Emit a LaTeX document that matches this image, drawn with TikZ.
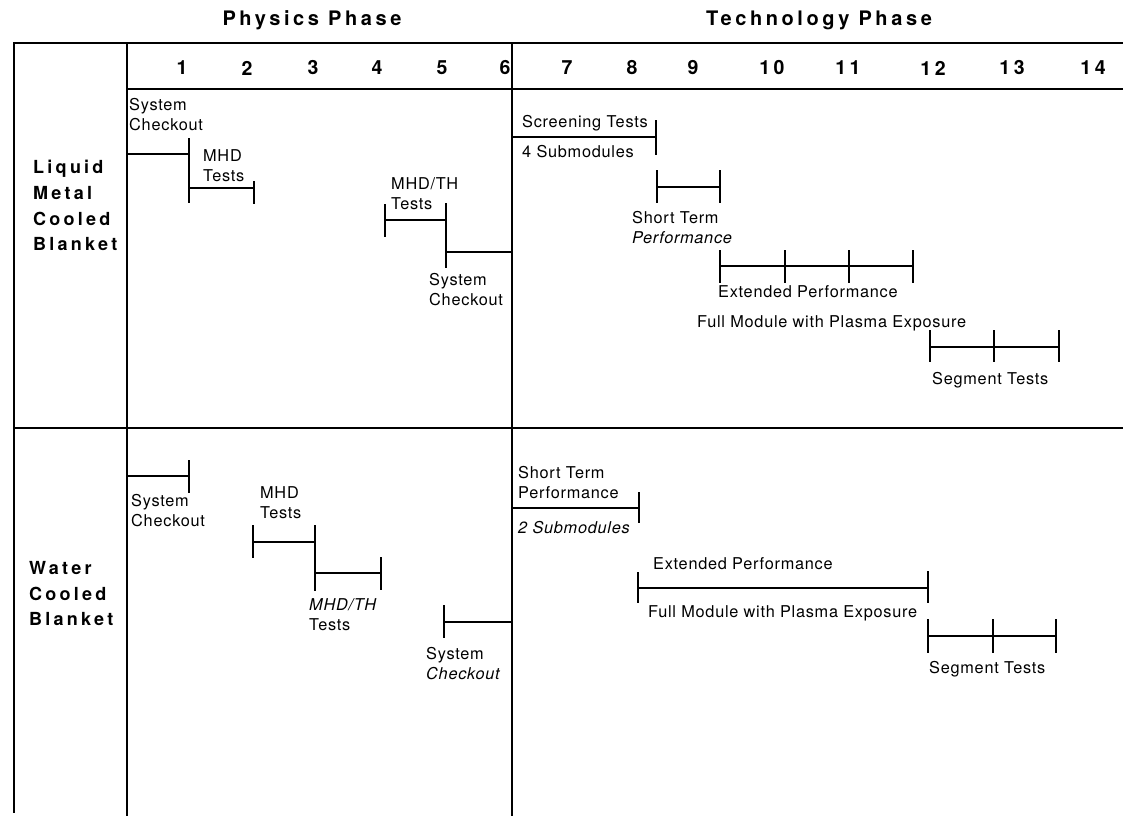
\documentclass[tikz,border=0pt]{standalone}
\usepackage{fontspec}
\setmainfont[LetterSpace=4.5]{TeX Gyre Heros}
\newfontfamily\headfont[LetterSpace=18]{TeX Gyre Heros}

\tikzset{
    frame/.style={line width=2pt},
    bar/.style={line width=1.8pt},
    task/.style={anchor=north west, inner sep=0pt, align=left, font=\fontsize{16.3}{20.5}\selectfont},
    rowname/.style={anchor=north west, inner sep=0pt, align=left, font=\headfont\bfseries\fontsize{18}{25.7}\selectfont},
    phase/.style={inner sep=0pt, font=\headfont\bfseries\fontsize{20}{24}\selectfont},
    year/.style={inner sep=0pt, font=\headfont\bfseries\fontsize{19.5}{22}\selectfont}
}

% vertical tick of a bar: x, top, bottom
\newcommand{\barTick}[3]{\draw[bar] (#1,#2) -- (#1,#3);}

\begin{document}
\begin{tikzpicture}[x=1pt, y=-1pt]

    % Dimensions (pixels of the chart)
    \def\leftX{14}
    \def\labelX{127}
    \def\phaseX{512}
    \def\rightX{1123}
    \def\topY{43}
    \def\headY{89}
    \def\rowY{428}
    \def\bottomY{816}

    \useasboundingbox (0,0) rectangle (1123,816);

    % Phase titles
    \node[phase] (physics) at (312,20) {Physics Phase};
    \node[phase] (technology) at (819,20) {Technology Phase};

    % Table Outline
    \draw[frame] (\rightX,\topY) -- (\leftX,\topY) -- (\leftX,813);
    \draw[frame] (\labelX,\topY) -- (\labelX,\bottomY);
    \draw[frame] (\phaseX,\topY) -- (\phaseX,\bottomY);
    \draw[frame] (\labelX,\headY) -- (\rightX,\headY);
    \draw[frame] (\leftX,\rowY) -- (\rightX,\rowY);

    % Years
    \foreach \n/\x in {1/182, 2/247, 3/313, 4/377, 5/442, 6/505, 7/567,
                       8/632, 9/693, 10/772, 11/848, 12/933, 13/1012, 14/1093} {
        \node[year] (yr\n) at (\x,68) {\n};
    }

    % Row names
    \node[rowname] (liquid) at (33,160) {Liquid\\Metal\\Cooled\\Blanket};
    \node[rowname] (water) at (29,561) {Water\\Cooled\\Blanket};

    % ---- Liquid Metal Cooled Blanket ----
    % System Checkout
    \draw[bar] (\labelX,154) -- (189,154);
    \barTick{189}{138}{203}
    \node[task] (lmSysA) at (129,98) {System\\Checkout};
    % MHD Tests
    \draw[bar] (189,188) -- (254,188);
    \barTick{254}{181}{204}
    \node[task] (lmMhd) at (203,149) {MHD\\Tests};
    % MHD/TH Tests
    \barTick{385}{204}{237}
    \draw[bar] (385,220) -- (446,220);
    \barTick{446}{203}{268}
    \node[task] (lmMhdTh) at (391,177) {MHD/TH\\Tests};
    % System Checkout
    \draw[bar] (446,252) -- (\phaseX,252);
    \node[task] (lmSysB) at (429,273) {System\\Checkout};
    % Screening Tests
    \draw[bar] (\phaseX,137) -- (656,137);
    \barTick{656}{120}{155}
    \node[task] (lmScreen) at (522,115) {Screening Tests};
    \node[task] (lmSub) at (522,145) {4 Submodules};
    % Short Term Performance
    \barTick{657}{170}{203}
    \draw[bar] (657,187) -- (720,187);
    \barTick{720}{170}{203}
    \node[task] (lmShort) at (632,211) {Short Term\\\textit{Performance}};
    % Extended Performance
    \draw[bar] (720,266) -- (913,266);
    \foreach \x in {720, 785, 849, 913} {
        \barTick{\x}{250}{283}
    }
    \node[task] (lmExt) at (718,285) {Extended Performance};
    \node[task] (lmFull) at (697,315) {Full Module with Plasma Exposure};
    % Segment Tests
    \draw[bar] (930,347) -- (1059,347);
    \foreach \x in {930, 994, 1059} {
        \barTick{\x}{330}{362}
    }
    \node[task] (lmSeg) at (932,372) {Segment Tests};

    % ---- Water Cooled Blanket ----
    % System Checkout
    \draw[bar] (\labelX,476) -- (189,476);
    \barTick{189}{460}{493}
    \node[task] (wcSysA) at (131,494) {System\\Checkout};
    % MHD Tests
    \barTick{253}{525}{558}
    \draw[bar] (253,542) -- (315,542);
    \barTick{315}{525}{591}
    \node[task] (wcMhd) at (260,486) {MHD\\Tests};
    % MHD/TH Tests
    \draw[bar] (315,573) -- (381,573);
    \barTick{381}{557}{590}
    \node[task] (wcMhdTh) at (309,598) {\textit{MHD/TH}\\Tests};
    % System Checkout
    \barTick{444}{605}{638}
    \draw[bar] (444,622) -- (\phaseX,622);
    \node[task] (wcSysB) at (426,647) {System\\\textit{Checkout}};
    % Short Term Performance
    \draw[bar] (\phaseX,508) -- (639,508);
    \barTick{639}{492}{523}
    \node[task] (wcShort) at (518,466) {Short Term\\Performance};
    \node[task] (wcSub) at (518,521) {\textit{2 Submodules}};
    % Extended Performance
    \barTick{638}{572}{603}
    \draw[bar] (638,588) -- (928,588);
    \barTick{928}{571}{603}
    \node[task] (wcExt) at (653,557) {Extended Performance};
    \node[task] (wcFull) at (648,605) {Full Module with Plasma Exposure};
    % Segment Tests
    \draw[bar] (928,636) -- (1056,636);
    \foreach \x in {928, 993, 1056} {
        \barTick{\x}{619}{653}
    }
    \node[task] (wcSeg) at (929,661) {Segment Tests};

\end{tikzpicture}
\end{document}
